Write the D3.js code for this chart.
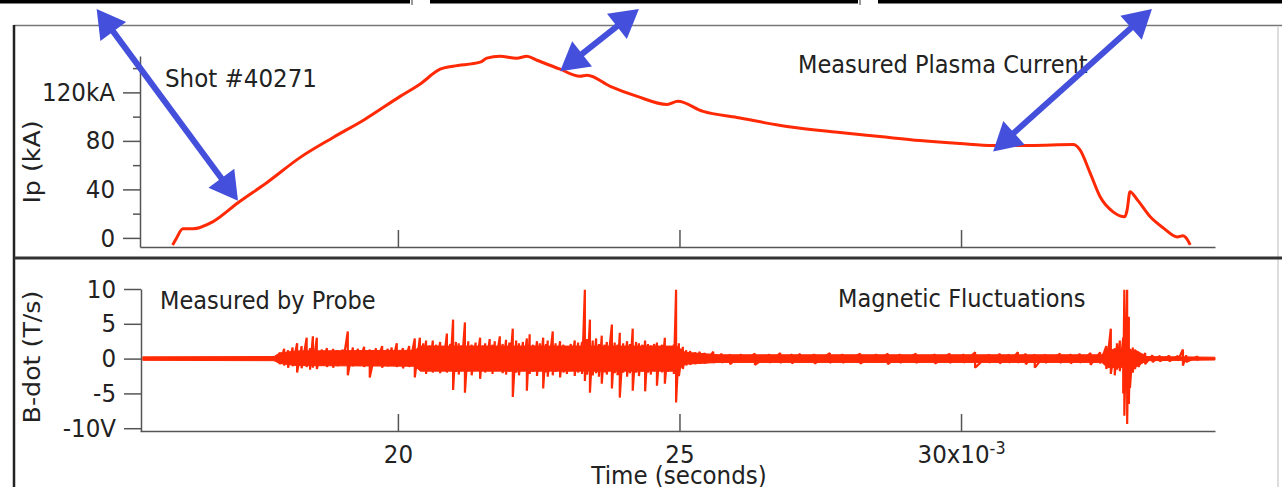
<!DOCTYPE html>
<html>
<head>
<meta charset="utf-8">
<script src="https://cdn.jsdelivr.net/npm/d3@7"></script>
<style>
    html, body { margin: 0; padding: 0; background: #fff; }
    svg { display: block; }
</style>
</head>
<body>
<svg id="chart" width="1282" height="487"></svg>
<script>
// ---- Data (time in ms) ----

// Plasma current trace, Ip (kA)
const ipTime = [16.00, 16.07, 16.18, 16.36, 16.71, 17.16, 17.67, 18.26, 18.85, 19.41, 20.04, 20.39, 20.75,
    20.98, 21.46, 21.58, 21.81, 22.11, 22.29, 22.47, 22.88, 23.23, 23.36, 23.77, 24.25, 24.78, 24.97, 25.42,
    26.02, 26.91, 27.85, 28.56, 29.27, 29.98, 30.57, 31.23, 31.99, 32.11, 32.29, 32.47, 32.70, 32.91, 32.95,
    33.00, 33.13, 33.36, 33.59, 33.84, 33.94, 34.01, 34.07];
const ipValue = [-5.8, 0, 7.5, 7.5, 13.2, 29.0, 45.5, 66.2, 82.8, 97.7, 116.7, 126.7, 139.1,
    141.6, 144.9, 148.2, 149.8, 148.2, 149.8, 146.5, 139.1, 133.3, 134.1, 125.0, 116.7, 110.1, 112.6, 104.3,
    99.3, 91.9, 86.9, 83.6, 80.3, 77.8, 76.2, 76.2, 77.0, 72.8, 53.8, 33.9, 21.5, 17.4, 23.2,
    38.1, 31.5, 17.4, 8.3, 0.8, 1.7, -0.8, -5.8];

// B-dot noise floor envelope (T/s)
const noiseTime = [15.47, 17.80, 17.90, 18.20, 20.30, 20.40, 24.95, 25.10, 25.70, 32.50, 32.60, 33.10, 33.30, 34.51];
const noiseHi = [0.25, 0.3, 0.8, 1.1, 1.2, 1.8, 1.8, 0.9, 0.55, 0.55, 1.3, 1.2, 0.3, 0.2];
const noiseLo = [-0.25, -0.3, -0.7, -1.0, -1.1, -1.8, -1.8, -0.8, -0.55, -0.55, -1.3, -1.2, -0.3, -0.2];

// B-dot spikes: time, max, min (T/s)
const spikeTime = [17.90, 17.98, 18.05, 18.13, 18.21, 18.29, 18.38, 18.44, 18.49, 18.56, 18.65, 18.74, 18.80,
    18.85, 18.93, 19.02, 19.11, 19.20, 19.29, 19.40, 19.50, 19.61, 19.72, 19.82, 19.89, 19.98, 20.09, 20.20,
    20.30, 20.39, 20.45, 20.50, 20.56, 20.62, 20.68, 20.75, 20.80, 20.87, 20.93, 20.98, 21.03, 21.08, 21.13,
    21.19, 21.25, 21.31, 21.38, 21.46, 21.51, 21.55, 21.63, 21.68, 21.72, 21.81, 21.86, 21.92, 21.98, 22.04,
    22.10, 22.15, 22.22, 22.29, 22.34, 22.40, 22.47, 22.52, 22.58, 22.63, 22.66, 22.75, 22.80, 22.88, 22.94,
    23.00, 23.07, 23.14, 23.20, 23.27, 23.32, 23.36, 23.41, 23.46, 23.52, 23.57, 23.62, 23.67, 23.71, 23.80,
    23.85, 23.90, 23.94, 24.00, 24.07, 24.12, 24.17, 24.23, 24.28, 24.34, 24.39, 24.44, 24.49, 24.55, 24.60,
    24.65, 24.69, 24.74, 24.80, 24.85, 24.90, 24.94, 24.99, 25.06, 25.12, 25.19, 25.28, 25.36, 25.45, 25.60,
    25.75, 25.90, 26.10, 26.34, 26.60, 26.79, 27.00, 27.14, 27.40, 27.67, 27.90, 28.21, 28.50, 28.70, 28.92,
    29.20, 29.54, 29.80, 30.05, 30.25, 30.50, 30.69, 30.85, 31.01, 31.15, 31.31, 31.50, 31.76, 31.95, 32.11,
    32.30, 32.47, 32.58, 32.66, 32.73, 32.77, 32.82, 32.88, 32.90, 32.95, 32.98, 33.00, 33.05, 33.09, 33.15,
    33.27, 33.40, 33.53, 33.70, 33.85, 33.94, 34.00, 34.20];
const spikeHi = [0.9, 1.4, 1.2, 1.6, 2.2, 1.8, 3.0, 1.5, 3.2, 3.0, 1.3, 1.5, 1.1,
    1.4, 1.2, 1.3, 3.9, 1.6, 1.4, 1.7, 1.3, 1.5, 1.8, 1.4, 1.6, 2.2, 1.5, 1.8,
    2.9, 3.0, 2.2, 2.6, 1.9, 2.6, 2.0, 2.4, 1.8, 3.6, 2.1, 5.6, 2.4, 2.2, 1.9,
    5.2, 2.5, 2.0, 2.3, 3.0, 1.9, 2.2, 2.8, 2.0, 2.5, 3.2, 2.1, 2.7, 2.3, 4.3,
    2.6, 2.2, 2.4, 2.9, 3.5, 2.0, 2.5, 2.2, 3.0, 2.1, 2.6, 3.9, 2.2, 2.5, 2.0,
    1.4, 2.1, 2.6, 2.3, 2.4, 9.9, 2.8, 5.6, 2.6, 2.9, 2.1, 3.3, 2.0, 2.4, 4.9,
    2.3, 2.0, 3.7, 2.2, 2.5, 2.1, 4.3, 2.4, 2.2, 2.0, 2.6, 2.1, 1.9, 2.1, 2.3,
    1.8, 2.0, 3.0, 1.8, 1.6, 2.0, 9.9, 2.2, 1.7, 1.2, 1.1, 0.9, 1.0, 0.8, 1.0,
    0.7, 0.6, 0.6, 0.7, 0.6, 0.8, 0.6, 0.7, 0.6, 0.8, 0.6, 0.7, 0.6, 0.7, 0.6,
    0.7, 0.6, 0.7, 0.6, 0.9, 0.6, 0.7, 0.6, 0.9, 0.7, 0.6, 0.6, 0.7, 0.6, 0.7,
    0.8, 0.9, 1.8, 4.3, 1.5, 2.2, 2.6, 3.0, 9.9, 9.9, 6.0, 1.4, 1.6, 1.3, 1.0,
    0.8, 0.5, 0.4, 0.4, 0.4, 1.3, 0.5, 0.3];
const spikeLo = [-0.8, -1.0, -1.3, -1.1, -2.0, -1.4, -1.2, -1.6, -1.3, -1.5, -1.0, -1.2, -0.9,
    -1.3, -1.1, -0.9, -2.4, -1.1, -1.0, -1.2, -2.7, -1.0, -1.3, -1.1, -1.0, -1.2, -1.4, -1.2,
    -2.7, -1.6, -1.8, -2.2, -1.5, -2.0, -1.6, -2.1, -1.4, -2.0, -1.7, -4.5, -1.9, -2.3, -1.6,
    -4.9, -1.8, -2.4, -1.7, -2.9, -1.6, -2.0, -1.8, -2.2, -1.6, -1.7, -2.1, -2.3, -1.9, -5.5,
    -2.0, -2.4, -1.8, -4.6, -2.2, -1.9, -2.5, -1.8, -4.3, -2.0, -2.6, -2.4, -1.9, -2.7, -2.0,
    -2.2, -1.8, -2.5, -2.0, -2.2, -3.2, -2.3, -4.9, -2.4, -2.1, -2.6, -3.6, -2.0, -2.3, -4.3,
    -2.1, -2.4, -5.6, -2.0, -2.6, -2.1, -4.6, -2.0, -2.5, -1.9, -4.7, -2.0, -2.3, -1.8, -3.9,
    -1.7, -2.0, -3.6, -1.9, -1.6, -2.2, -6.3, -2.5, -1.5, -1.0, -0.9, -0.8, -0.7, -0.7, -0.6,
    -0.6, -0.8, -0.5, -0.9, -0.6, -0.6, -0.7, -0.5, -0.7, -0.6, -0.6, -0.7, -0.5, -0.8, -0.6,
    -0.6, -0.7, -0.6, -0.6, -1.3, -0.6, -0.7, -0.6, -0.6, -0.8, -1.3, -0.6, -0.6, -0.7, -0.6,
    -0.9, -0.7, -1.5, -2.2, -2.4, -1.6, -1.8, -5.0, -8.2, -9.4, -6.5, -4.2, -2.0, -1.5, -1.2,
    -0.8, -0.5, -0.4, -0.4, -0.3, -1.0, -0.5, -0.3];

// Axis ticks
const timeTicks = [20, 25, 30];
const ipTicks = [0, 40, 80, 120];
const ipTickLabels = ['0', '40', '80', '120kA'];
const ipMinorTicks = [20, 60, 100, 140];
const bTicks = [-10, -5, 0, 5, 10];
const bTickLabels = ['-10V', '-5', '0', '5', '10'];

// Annotation arrows (time ms, Ip kA), double headed
const arrowFromT = [17.16, 22.88, 30.57];
const arrowFromIp = [30.6, 137.4, 71.2];
const arrowToT = [14.65, 24.28, 33.39];
const arrowToIp = [188.7, 188.7, 188.7];

// ---- Configs ----
const configs = {
    font: "'DejaVu Sans', Verdana, sans-serif",
    textColor: '#222',
    axisColor: '#555',
    red: '#ff2a05',
    blue: '#4450dc',
    stretch: 1.1,
};

const svg = d3.select('#chart');

// Scales
const x = d3.scaleLinear().domain([15.42, 34.51]).range([140, 1215]);
const yIp = d3.scaleLinear().domain([-7.5, 150]).range([247, 56]);
const yB = d3.scaleLinear().domain([-10.4, 10]).range([431, 289]);

// Page decoration: black bars at top, frame, separator
const topBars = svg.append('g');
[[0, 410], [430, 858], [878, 1282]].forEach(([a, b]) => {
    topBars.append('rect').attr('x', a).attr('y', 0).attr('width', b - a).attr('height', 3.5).attr('fill', '#000');
});
[411, 859].forEach(px => {
    topBars.append('rect').attr('x', px).attr('y', 0).attr('width', 2).attr('height', 5).attr('fill', '#999');
});
svg.append('line').attr('x1', 14).attr('x2', 1282).attr('y1', 25.5).attr('y2', 25.5)
    .attr('stroke', '#777').attr('stroke-width', 1.5);
svg.append('line').attr('x1', 14).attr('x2', 14).attr('y1', 25).attr('y2', 487)
    .attr('stroke', '#222').attr('stroke-width', 2.5);
svg.append('line').attr('x1', 1278).attr('x2', 1278).attr('y1', 26).attr('y2', 487)
    .attr('stroke', '#ddd').attr('stroke-width', 2);
svg.append('line').attr('x1', 14).attr('x2', 1282).attr('y1', 258).attr('y2', 258)
    .attr('stroke', '#333').attr('stroke-width', 3);

// Axis styling helper
function styleAxis(g) {
    g.attr('font-family', null).attr('font-size', null);
    g.selectAll('path, line').attr('stroke', configs.axisColor).attr('stroke-width', 1.5);
    g.selectAll('text')
        .attr('font-family', configs.font)
        .attr('font-size', 23)
        .attr('fill', configs.textColor)
        .attr('transform', `scale(1, ${configs.stretch})`);
}

// Top panel axes
svg.append('g').attr('transform', 'translate(140,0)')
    .call(d3.axisLeft(yIp).tickValues(ipMinorTicks).tickSize(7).tickSizeOuter(0).tickFormat(''))
    .call(g => g.select('.domain').remove())
    .call(styleAxis);
svg.append('g').attr('transform', 'translate(140,0)')
    .call(d3.axisLeft(yIp).tickValues(ipTicks).tickSize(17).tickSizeOuter(0).tickPadding(8)
        .tickFormat((d, i) => ipTickLabels[i]))
    .call(styleAxis);
svg.append('g').attr('transform', 'translate(0,247)')
    .call(d3.axisBottom(x).tickValues(timeTicks).tickSize(-17).tickSizeOuter(0).tickFormat(''))
    .call(styleAxis);

// Bottom panel axes
svg.append('g').attr('transform', 'translate(141,0)')
    .call(d3.axisLeft(yB).tickValues(bTicks).tickSize(17).tickSizeOuter(0).tickPadding(8)
        .tickFormat((d, i) => bTickLabels[i]))
    .call(styleAxis);
const gTime = svg.append('g').attr('transform', 'translate(0,431)')
    .call(d3.axisBottom(x).tickValues(timeTicks).tickSize(-17).tickSizeOuter(0).tickPadding(13))
    .call(styleAxis);
gTime.selectAll('.tick text').filter(d => d === 30)
    .text(null)
    .call(t => {
        t.append('tspan').text('30x10');
        t.append('tspan').attr('dy', '-0.55em').attr('font-size', 16).text('-3');
    });

// Plasma current line
const ipData = ipTime.map((t, i) => ({t, v: ipValue[i]}));
svg.append('path')
    .datum(ipData)
    .attr('fill', 'none')
    .attr('stroke', configs.red)
    .attr('stroke-width', 3)
    .attr('stroke-linejoin', 'round')
    .attr('d', d3.line().x(d => x(d.t)).y(d => yIp(d.v)).curve(d3.curveMonotoneX));

// B-dot: noise band + spikes
const noiseData = noiseTime.map((t, i) => ({t, hi: noiseHi[i], lo: noiseLo[i]}));
svg.append('path')
    .datum(noiseData)
    .attr('fill', configs.red)
    .attr('stroke', configs.red)
    .attr('stroke-width', 1)
    .attr('d', d3.area().x(d => x(d.t)).y0(d => yB(d.lo)).y1(d => yB(d.hi)));

const spikePts = spikeTime.flatMap((t, i) => [[t, spikeHi[i]], [t, spikeLo[i]]]);
svg.append('path')
    .datum(spikePts)
    .attr('fill', 'none')
    .attr('stroke', configs.red)
    .attr('stroke-width', 2.2)
    .attr('stroke-linejoin', 'bevel')
    .attr('d', d3.line().x(d => x(d[0])).y(d => yB(d[1])));

// Text helper (slight vertical stretch like the original)
function label(txt, px, py, opts = {}) {
    const rot = opts.rotate ? ' rotate(-90)' : '';
    const sc = opts.rotate ? `scale(${configs.stretch}, 1)` : `scale(1, ${configs.stretch})`;
    return svg.append('text')
        .attr('transform', `translate(${px},${py})${rot} ${sc}`)
        .attr('text-anchor', opts.anchor || 'start')
        .attr('font-family', configs.font)
        .attr('font-size', opts.size || 22.5)
        .attr('fill', configs.textColor)
        .text(txt);
}

label('Shot #40271', 165, 87, {size: 23});
label('Measured Plasma Current', 798, 73);
label('Measured by Probe', 160, 309);
label('Magnetic Fluctuations', 838, 307);
label('Ip (kA)', 40, 162, {rotate: true, anchor: 'middle', size: 23});
label('B-dot (T/s)', 40, 357, {rotate: true, anchor: 'middle', size: 23});
label('Time (seconds)', 679, 484, {anchor: 'middle', size: 23});

// Arrows: shaft line plus two triangle heads
function arrowParts(x1, y1, x2, y2, headLen, headHalf) {
    const len = Math.hypot(x2 - x1, y2 - y1);
    const ux = (x2 - x1) / len, uy = (y2 - y1) / len;
    const nx = -uy, ny = ux;
    const head = (tx, ty, dir) => {
        const bx = tx - dir * ux * headLen, by = ty - dir * uy * headLen;
        return `M${tx},${ty}L${bx + nx * headHalf},${by + ny * headHalf}L${bx - nx * headHalf},${by - ny * headHalf}Z`;
    };
    return {
        sx1: x1 + ux * headLen * 0.7, sy1: y1 + uy * headLen * 0.7,
        sx2: x2 - ux * headLen * 0.7, sy2: y2 - uy * headLen * 0.7,
        heads: [head(x2, y2, 1), head(x1, y1, -1)],
    };
}

const arrowData = arrowFromT.map((t, i) =>
    arrowParts(x(t), yIp(arrowFromIp[i]), x(arrowToT[i]), yIp(arrowToIp[i]), 28, 16));
const gArrows = svg.append('g');
gArrows.selectAll('line')
    .data(arrowData)
    .join('line')
    .attr('x1', d => d.sx1).attr('y1', d => d.sy1)
    .attr('x2', d => d.sx2).attr('y2', d => d.sy2)
    .attr('stroke', configs.blue)
    .attr('stroke-width', 6);
gArrows.selectAll('path')
    .data(arrowData.flatMap(d => d.heads))
    .join('path')
    .attr('fill', configs.blue)
    .attr('d', d => d);
</script>
</body>
</html>
